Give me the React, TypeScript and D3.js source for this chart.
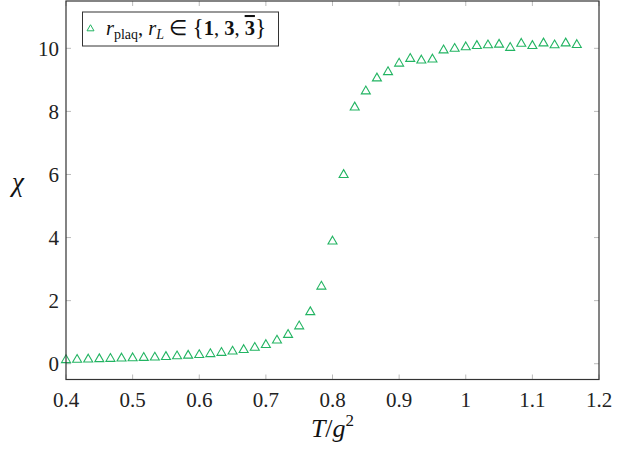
import React from "react";
import * as d3 from "d3";

const xValues: number[] = [
  0.4, 0.41667, 0.43333, 0.45, 0.46667, 0.48333, 0.5, 0.51667, 0.53333, 0.55,
  0.56667, 0.58333, 0.6, 0.61667, 0.63333, 0.65, 0.66667, 0.68333, 0.7, 0.71667,
  0.73333, 0.75, 0.76667, 0.78333, 0.8, 0.81667, 0.83333, 0.85, 0.86667, 0.88333,
  0.9, 0.91667, 0.93333, 0.95, 0.96667, 0.98333, 1.0, 1.01667, 1.03333, 1.05,
  1.06667, 1.08333, 1.1, 1.11667, 1.13333, 1.15, 1.16667,
];
const chiValues: number[] = [
  0.13, 0.14, 0.15, 0.16, 0.17, 0.18, 0.19, 0.2, 0.21, 0.23,
  0.25, 0.27, 0.29, 0.32, 0.36, 0.4, 0.45, 0.52, 0.61, 0.75,
  0.93, 1.2, 1.65, 2.46, 3.89, 6.0, 8.14, 8.65, 9.06, 9.26,
  9.53, 9.68, 9.63, 9.66, 9.95, 10.0, 10.05, 10.09, 10.11, 10.13,
  10.03, 10.16, 10.09, 10.17, 10.11, 10.17, 10.12,
];
const xTicks: number[] = [0.4, 0.5, 0.6, 0.7, 0.8, 0.9, 1.0, 1.1, 1.2];
const xTickLabels: string[] = ["0.4", "0.5", "0.6", "0.7", "0.8", "0.9", "1", "1.1", "1.2"];
const yTicks: number[] = [0, 2, 4, 6, 8, 10];
const yTickLabels: string[] = ["0", "2", "4", "6", "8", "10"];

const W = 620;
const H = 449;
const L = 66, R = 599, T = 1, B = 379.5;
const GREEN = "#22b462";
const FONT = "serif";

const tri = (s: number) => {
  const h = s * 0.866;
  return `M0,${-h * 0.62}L${s / 2},${h * 0.38}L${-s / 2},${h * 0.38}Z`;
};

export default function App() {
  const x = d3.scaleLinear().domain([0.4, 1.2]).range([L, R]);
  const y = d3.scaleLinear().domain([-0.5, 11.5]).range([B, T]);
  const pts = xValues.map((v, i) => ({ x: v, y: chiValues[i] }));
  const tickLen = 5;
  return (
    <svg
      width={W}
      height={H}
      style={{ position: "absolute", left: 0, top: 0, background: "#fff" }}
      fontFamily={FONT}
    >
      <rect x={0} y={0} width={W} height={H} fill="#fff" />
      {xTicks.map((t, i) => (
        <g key={"xt" + i}>
          <line x1={x(t)} x2={x(t)} y1={B} y2={B - tickLen} stroke="#bbb" strokeWidth={1} />
          <line x1={x(t)} x2={x(t)} y1={T} y2={T + tickLen} stroke="#bbb" strokeWidth={1} />
          <text x={x(t)} y={B + 27} fontSize={21} textAnchor="middle" fill="#222">
            {xTickLabels[i]}
          </text>
        </g>
      ))}
      {yTicks.map((t, i) => (
        <g key={"yt" + i}>
          <line x1={L} x2={L + tickLen} y1={y(t)} y2={y(t)} stroke="#bbb" strokeWidth={1} />
          <line x1={R} x2={R - tickLen} y1={y(t)} y2={y(t)} stroke="#bbb" strokeWidth={1} />
          <text x={L - 7} y={y(t) + 7.5} fontSize={21} textAnchor="end" fill="#222">
            {yTickLabels[i]}
          </text>
        </g>
      ))}
      {pts.map((p, i) => (
        <path
          key={"p" + i}
          d={tri(9)}
          transform={`translate(${x(p.x)},${y(p.y)})`}
          fill="none"
          stroke={GREEN}
          strokeWidth={1.1}
        />
      ))}
      <rect x={L} y={T} width={R - L} height={B - T} fill="none" stroke="#333" strokeWidth={1.2} />
      <rect x={82.5} y={12} width={196} height={34} fill="#fff" stroke="#333" strokeWidth={1} />
      <path d={tri(7)} transform="translate(90.5,28.5)" fill="none" stroke={GREEN} strokeWidth={1} />
      <text x={106} y={35} fontSize={20.5} fill="#111">
        <tspan fontStyle="italic">r</tspan>
        <tspan fontSize={14} dy={4}>plaq</tspan>
        <tspan dy={-4}>, </tspan>
        <tspan fontStyle="italic">r</tspan>
        <tspan fontSize={14} fontStyle="italic" dy={4}>L</tspan>
        <tspan dy={-4}> ∈ </tspan>
        <tspan fontSize={23.5}>{"{"}</tspan>
        <tspan fontWeight="bold">1</tspan>
        <tspan>, </tspan>
        <tspan fontWeight="bold">3</tspan>
        <tspan>, </tspan>
        <tspan fontWeight="bold" style={{ textDecoration: "overline" }}>3</tspan>
        <tspan fontSize={23.5}>{"}"}</tspan>
      </text>
      <text x={(L + R) / 2} y={437} fontSize={26} textAnchor="middle" fill="#111">
        <tspan fontStyle="italic">T</tspan>
        <tspan>/</tspan>
        <tspan fontStyle="italic">g</tspan>
        <tspan fontSize={17} dy={-11}>2</tspan>
      </text>
      <text x={18} y={191} fontSize={27} fontStyle="italic" textAnchor="middle" fill="#111">
        χ
      </text>
    </svg>
  );
}
